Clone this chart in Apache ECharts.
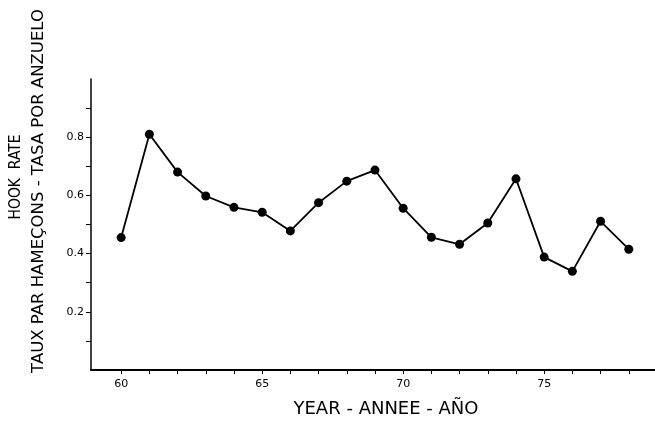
<!DOCTYPE html>
<html>
<head>
<meta charset="utf-8">
<script src="https://cdn.jsdelivr.net/npm/echarts@6/dist/echarts.min.js"></script>
<style>
  html, body { margin: 0; padding: 0; background: #fff; }
  #chart { width: 655px; height: 424px; }
</style>
</head>
<body>
<div id="chart"></div>
<script>
// Data
const years = [60, 61, 62, 63, 64, 65, 66, 67, 68, 69, 70, 71, 72, 73, 74, 75, 76, 77, 78];
const hookRate = [0.455, 0.81, 0.68, 0.598, 0.559, 0.542, 0.478, 0.575, 0.649, 0.687, 0.556, 0.456, 0.432, 0.505, 0.657, 0.388, 0.339, 0.511, 0.415];
const xTickValues = [60, 61, 62, 63, 64, 65, 66, 67, 68, 69, 70, 71, 72, 73, 74, 75, 76, 77, 78];
const xLabelValues = [60, 65, 70, 75];
const yTickValues = [0.1, 0.2, 0.3, 0.4, 0.5, 0.6, 0.7, 0.8, 0.9];
const yLabelValues = [0.2, 0.4, 0.6, 0.8];
const xTitle = 'YEAR - ANNEE - AÑO';
const yTitle1 = 'HOOK  RATE';
const yTitle2 = 'TAUX PAR HAMEÇONS - TASA POR ANZUELO';

const chart = echarts.init(document.getElementById('chart'), null, { renderer: 'canvas' });
const font = '"DejaVu Sans", Verdana, sans-serif';
const condFont = '"DejaVu Sans Condensed", "DejaVu Sans", sans-serif';

const option = {
  animation: false,
  backgroundColor: '#fff',
  grid: { left: 91, right: 0, top: 79, bottom: 54, containLabel: false },
  xAxis: {
    type: 'value',
    min: 58.93,
    max: 78.93,
    axisLine: { show: true, lineStyle: { color: '#000', width: 2 } },
    axisTick: { show: true, customValues: xTickValues, length: 4, lineStyle: { color: '#000', width: 1 } },
    axisLabel: { customValues: xLabelValues, color: '#000', fontSize: 11, fontFamily: font, margin: 9, formatter: v => String(Math.round(v)) },
    splitLine: { show: false }
  },
  yAxis: {
    type: 'value',
    min: 0,
    max: 1,
    axisLine: { show: true, lineStyle: { color: '#000', width: 1.5 } },
    axisTick: { show: true, customValues: yTickValues, length: 5, lineStyle: { color: '#000', width: 1 } },
    axisLabel: { customValues: yLabelValues, color: '#000', fontSize: 11, fontFamily: font, margin: 7, formatter: v => v.toFixed(1) },
    splitLine: { show: false }
  },
  graphic: [
    { type: 'text', x: 16, y: 177, rotation: Math.PI / 2,
      style: { text: yTitle1, fill: '#000', font: '15.5px ' + condFont, textAlign: 'center', textVerticalAlign: 'middle' } },
    { type: 'text', x: 39, y: 191, rotation: Math.PI / 2,
      style: { text: yTitle2, fill: '#000', font: '16.5px ' + font, textAlign: 'center', textVerticalAlign: 'middle' } },
    { type: 'text', x: 386, y: 409,
      style: { text: xTitle, fill: '#000', font: '18px ' + font, textAlign: 'center', textVerticalAlign: 'middle' } }
  ],
  series: [{
    type: 'line',
    data: years.map((y, i) => [y, hookRate[i]]),
    symbol: 'circle',
    symbolSize: 9,
    itemStyle: { color: '#000' },
    lineStyle: { color: '#000', width: 1.8 }
  }]
};
chart.setOption(option);
</script>
</body>
</html>
